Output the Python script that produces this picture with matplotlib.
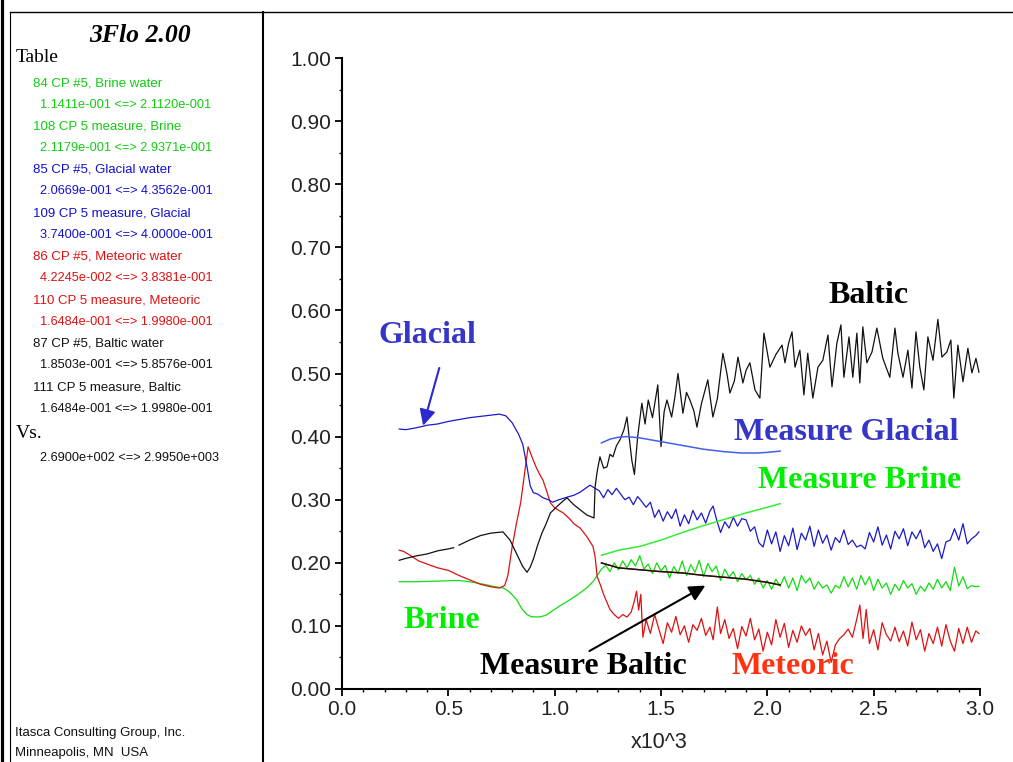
import numpy as np
import matplotlib
matplotlib.use("Agg")
import matplotlib.pyplot as plt
from matplotlib.lines import Line2D
from matplotlib.ticker import MultipleLocator, FormatStrFormatter

# ---------------------------------------------------------------- data
# time axis is in units of 10^3

glacial_t = [0.269, 0.30, 0.35, 0.40, 0.45, 0.50, 0.55, 0.60, 0.65, 0.70, 0.74, 0.77,
             0.80, 0.83, 0.85, 0.87, 0.885, 0.90, 0.92, 0.945, 0.97, 0.99, 1.02, 1.058,
             1.09, 1.12, 1.166, 1.19,
             1.21, 1.23, 1.25, 1.27, 1.29, 1.31, 1.33, 1.35, 1.37, 1.39, 1.41, 1.43, 1.45,
             1.47, 1.49, 1.51, 1.53, 1.55, 1.57, 1.59, 1.61, 1.63, 1.65, 1.67, 1.69, 1.71,
             1.73, 1.745, 1.76, 1.78, 1.80, 1.82, 1.84, 1.86, 1.88, 1.90, 1.92, 1.94, 1.96,
             1.98, 2.00, 2.02, 2.04, 2.06, 2.08, 2.10, 2.12, 2.14, 2.16, 2.18, 2.20, 2.22,
             2.24, 2.26, 2.28, 2.30, 2.32, 2.34, 2.36, 2.38, 2.40, 2.42, 2.44, 2.46, 2.48,
             2.50, 2.52, 2.54, 2.56, 2.58, 2.60, 2.62, 2.64, 2.66, 2.68, 2.70, 2.72, 2.74,
             2.76, 2.78, 2.80, 2.82, 2.84, 2.86, 2.88, 2.90, 2.92, 2.94, 2.96, 2.98, 2.995]
glacial_v = [0.412, 0.411, 0.414, 0.418, 0.420, 0.424, 0.427, 0.430, 0.432, 0.434, 0.4356, 0.433,
             0.422, 0.404, 0.388, 0.352, 0.322, 0.311, 0.309, 0.303, 0.300, 0.296, 0.300, 0.304,
             0.307, 0.312, 0.323, 0.318,
             0.314, 0.303, 0.316, 0.308, 0.318, 0.309, 0.300, 0.304, 0.292, 0.305, 0.297, 0.288, 0.296,
             0.272, 0.284, 0.266, 0.281, 0.270, 0.285, 0.258, 0.276, 0.262, 0.283, 0.268, 0.279, 0.263,
             0.282, 0.290, 0.270, 0.248, 0.265, 0.255, 0.272, 0.258, 0.270, 0.268, 0.250, 0.257, 0.232,
             0.225, 0.252, 0.230, 0.249, 0.218, 0.243, 0.227, 0.255, 0.221, 0.247, 0.236, 0.258, 0.226,
             0.252, 0.231, 0.244, 0.220, 0.240, 0.232, 0.252, 0.229, 0.236, 0.225, 0.228, 0.222, 0.248,
             0.233, 0.257, 0.228, 0.244, 0.222, 0.250, 0.238, 0.254, 0.227, 0.249, 0.238, 0.252, 0.224,
             0.236, 0.218, 0.230, 0.2067, 0.233, 0.236, 0.254, 0.236, 0.262, 0.230, 0.238, 0.243, 0.249]

brine_t = [0.269, 0.35, 0.45, 0.55, 0.62, 0.68, 0.72, 0.76, 0.79, 0.82, 0.846, 0.87, 0.89,
           0.93, 0.96, 0.99, 1.03, 1.07, 1.11, 1.15, 1.18, 1.20, 1.22,
           1.24, 1.26, 1.28, 1.30, 1.32, 1.34, 1.36, 1.38, 1.40, 1.42, 1.44, 1.46, 1.48,
           1.50, 1.52, 1.54, 1.56, 1.58, 1.60, 1.62, 1.64, 1.66, 1.68, 1.70, 1.72, 1.74,
           1.76, 1.78, 1.80, 1.82, 1.84, 1.86, 1.88, 1.90, 1.92, 1.94, 1.96, 1.98, 2.00,
           2.02, 2.04, 2.06, 2.08, 2.10, 2.12, 2.14, 2.16, 2.18, 2.20, 2.22, 2.24, 2.26,
           2.28, 2.30, 2.32, 2.34, 2.36, 2.38, 2.40, 2.42, 2.44, 2.46, 2.48, 2.50, 2.52,
           2.54, 2.56, 2.58, 2.60, 2.62, 2.64, 2.66, 2.68, 2.70, 2.72, 2.74, 2.76, 2.78,
           2.80, 2.82, 2.84, 2.86, 2.88, 2.90, 2.92, 2.94, 2.96, 2.98, 2.995]
brine_v = [0.170, 0.170, 0.171, 0.172, 0.169, 0.165, 0.162, 0.160, 0.153, 0.142, 0.127, 0.118, 0.1145,
           0.1141, 0.117, 0.124, 0.133, 0.141, 0.150, 0.160, 0.170, 0.180, 0.190,
           0.196, 0.186, 0.200, 0.189, 0.203, 0.192, 0.205, 0.195, 0.2112, 0.190, 0.198, 0.183, 0.200,
           0.187, 0.196, 0.176, 0.194, 0.183, 0.203, 0.180, 0.197, 0.185, 0.204, 0.178, 0.199, 0.186,
           0.195, 0.172, 0.190, 0.177, 0.186, 0.170, 0.183, 0.173, 0.180, 0.166, 0.176, 0.160, 0.172,
           0.158, 0.174, 0.163, 0.178, 0.160, 0.176, 0.156, 0.180, 0.168, 0.176, 0.158, 0.170, 0.160,
           0.165, 0.152, 0.164, 0.160, 0.178, 0.162, 0.176, 0.158, 0.180, 0.165, 0.178, 0.156, 0.174,
           0.160, 0.168, 0.150, 0.166, 0.156, 0.172, 0.160, 0.167, 0.150, 0.163, 0.155, 0.168, 0.158,
           0.174, 0.160, 0.170, 0.156, 0.193, 0.163, 0.178, 0.159, 0.164, 0.162, 0.163]

meteoric_t = [0.269, 0.29, 0.32, 0.36, 0.40, 0.45, 0.50, 0.55, 0.60, 0.65, 0.70, 0.74, 0.765,
              0.78, 0.80, 0.82, 0.84, 0.86, 0.875, 0.885, 0.90, 0.915, 0.93, 0.945, 0.96, 0.98,
              1.00, 1.04, 1.07, 1.09, 1.12, 1.15, 1.18, 1.19, 1.20, 1.215, 1.23, 1.245, 1.26,
              1.28, 1.30, 1.32, 1.34, 1.36, 1.375, 1.385, 1.395, 1.405, 1.415, 1.43, 1.45, 1.47,
              1.49, 1.51, 1.53, 1.55, 1.57, 1.59, 1.61, 1.63, 1.65, 1.67, 1.69, 1.71, 1.73,
              1.745, 1.765, 1.78, 1.80, 1.82, 1.84, 1.86, 1.88, 1.90, 1.92, 1.94, 1.96, 1.98,
              2.00, 2.02, 2.04, 2.06, 2.08, 2.10, 2.12, 2.14, 2.16, 2.18, 2.20, 2.22, 2.24,
              2.26, 2.28, 2.30, 2.32, 2.34, 2.36, 2.38, 2.40, 2.42, 2.435, 2.45, 2.465, 2.48,
              2.50, 2.52, 2.54, 2.56, 2.58, 2.60, 2.62, 2.64, 2.66, 2.68, 2.70, 2.72, 2.74,
              2.76, 2.78, 2.80, 2.82, 2.84, 2.86, 2.88, 2.90, 2.92, 2.94, 2.96, 2.98, 2.995]
meteoric_v = [0.220, 0.218, 0.212, 0.203, 0.198, 0.192, 0.188, 0.180, 0.173, 0.166, 0.162, 0.160, 0.164,
              0.180, 0.225, 0.262, 0.295, 0.345, 0.3838, 0.375, 0.362, 0.350, 0.340, 0.331, 0.316, 0.295,
              0.287, 0.279, 0.270, 0.262, 0.255, 0.242, 0.226, 0.210, 0.178, 0.165, 0.150, 0.138, 0.126,
              0.118, 0.112, 0.118, 0.114, 0.122, 0.140, 0.155, 0.125, 0.150, 0.082, 0.110, 0.088, 0.118,
              0.095, 0.072, 0.105, 0.090, 0.115, 0.086, 0.100, 0.074, 0.102, 0.093, 0.112, 0.085, 0.098,
              0.078, 0.130, 0.088, 0.110, 0.080, 0.096, 0.064, 0.099, 0.084, 0.112, 0.078, 0.095, 0.060,
              0.090, 0.070, 0.110, 0.082, 0.104, 0.066, 0.093, 0.074, 0.100, 0.085, 0.096, 0.062, 0.088,
              0.054, 0.076, 0.0422, 0.070, 0.080, 0.086, 0.095, 0.082, 0.110, 0.133, 0.080, 0.126, 0.072,
              0.094, 0.062, 0.105, 0.086, 0.076, 0.098, 0.075, 0.092, 0.068, 0.106, 0.078, 0.094, 0.060,
              0.088, 0.072, 0.098, 0.068, 0.102, 0.076, 0.060, 0.096, 0.072, 0.098, 0.074, 0.092, 0.088]

# the Baltic record has a short gap near t = 0.53
baltic_t = [0.269, 0.30, 0.35, 0.40, 0.45, 0.50, 0.525, 0.535, 0.55, 0.60, 0.65, 0.70, 0.757,
            0.79, 0.81, 0.83, 0.85, 0.87, 0.885, 0.90, 0.92, 0.94, 0.96, 0.98, 1.01, 1.04,
            1.058, 1.075, 1.09, 1.12, 1.15, 1.185, 1.19, 1.20, 1.213, 1.23, 1.246, 1.26, 1.274,
            1.29, 1.307, 1.325, 1.34, 1.35, 1.363, 1.375, 1.39, 1.41, 1.425, 1.44, 1.46, 1.485,
            1.50, 1.515, 1.528, 1.55, 1.565, 1.58, 1.603, 1.62, 1.636, 1.655, 1.669, 1.69, 1.72,
            1.744, 1.765, 1.791, 1.81, 1.824, 1.845, 1.862, 1.885, 1.90, 1.918, 1.942, 1.965,
            1.984, 2.012, 2.04, 2.069, 2.083, 2.10, 2.116, 2.13, 2.153, 2.172, 2.19, 2.214,
            2.238, 2.261, 2.285, 2.304, 2.327, 2.346, 2.36, 2.384, 2.402, 2.421, 2.435, 2.449,
            2.468, 2.492, 2.515, 2.543, 2.576, 2.60, 2.614, 2.638, 2.661, 2.68, 2.699, 2.717,
            2.736, 2.755, 2.779, 2.802, 2.821, 2.844, 2.863, 2.877, 2.896, 2.92, 2.943, 2.962,
            2.981, 2.995]
baltic_v = [0.204, 0.207, 0.211, 0.214, 0.219, 0.222, 0.224, np.nan, 0.228, 0.236, 0.243, 0.247, 0.249,
            0.236, 0.222, 0.208, 0.194, 0.1850, 0.193, 0.206, 0.228, 0.247, 0.262, 0.279, 0.289, 0.298,
            0.303, 0.297, 0.292, 0.284, 0.276, 0.271, 0.320, 0.345, 0.368, 0.350, 0.352, 0.372, 0.368,
            0.385, 0.395, 0.410, 0.431, 0.400, 0.362, 0.340, 0.399, 0.453, 0.420, 0.458, 0.430, 0.482,
            0.384, 0.440, 0.458, 0.431, 0.462, 0.500, 0.437, 0.470, 0.458, 0.440, 0.415, 0.452, 0.490,
            0.431, 0.460, 0.532, 0.500, 0.469, 0.488, 0.526, 0.485, 0.505, 0.517, 0.474, 0.461,
            0.564, 0.510, 0.530, 0.545, 0.517, 0.548, 0.566, 0.510, 0.537, 0.466, 0.532, 0.461,
            0.510, 0.521, 0.561, 0.479, 0.548, 0.577, 0.494, 0.558, 0.494, 0.564, 0.485, 0.574,
            0.517, 0.534, 0.572, 0.524, 0.494, 0.572, 0.532, 0.494, 0.537, 0.477, 0.566, 0.510,
            0.474, 0.558, 0.521, 0.5858, 0.526, 0.534, 0.553, 0.461, 0.545, 0.487, 0.540, 0.501,
            0.524, 0.502]

# measured concentrations
meas_glacial_t = [1.22, 1.26, 1.30, 1.34, 1.40, 1.50, 1.60, 1.70, 1.80, 1.88, 1.95, 2.00, 2.06]
meas_glacial_v = [0.390, 0.396, 0.399, 0.400, 0.398, 0.392, 0.386, 0.380, 0.376, 0.374, 0.374, 0.375, 0.377]
meas_brine_t = [1.22, 1.30, 1.40, 1.50, 1.60, 1.70, 1.80, 1.90, 2.00, 2.06]
meas_brine_v = [0.2118, 0.220, 0.226, 0.236, 0.248, 0.259, 0.269, 0.279, 0.288, 0.2937]
meas_baltic_t = [1.22, 1.26, 1.30, 1.40, 1.50, 1.60, 1.70, 1.80, 1.90, 2.00, 2.06]
meas_baltic_v = [0.1998, 0.196, 0.192, 0.189, 0.186, 0.184, 0.180, 0.177, 0.174, 0.169, 0.1648]
meas_meteoric_t = meas_baltic_t
meas_meteoric_v = meas_baltic_v

# side table
table_titles = ["84 CP #5, Brine water", "108 CP 5 measure, Brine",
                "85 CP #5, Glacial water", "109 CP 5 measure, Glacial",
                "86 CP #5, Meteoric water", "110 CP 5 measure, Meteoric",
                "87 CP #5, Baltic water", "111 CP 5 measure, Baltic"]
table_ranges = ["1.1411e-001 <=> 2.1120e-001", "2.1179e-001 <=> 2.9371e-001",
                "2.0669e-001 <=> 4.3562e-001", "3.7400e-001 <=> 4.0000e-001",
                "4.2245e-002 <=> 3.8381e-001", "1.6484e-001 <=> 1.9980e-001",
                "1.8503e-001 <=> 5.8576e-001", "1.6484e-001 <=> 1.9980e-001"]
table_colors = ["#11cc11", "#11cc11", "#1111cc", "#1111cc",
                "#e01010", "#e01010", "#111111", "#111111"]
vs_range = "2.6900e+002 <=> 2.9950e+003"

y_ticks = [0.0, 0.1, 0.2, 0.3, 0.4, 0.5, 0.6, 0.7, 0.8, 0.9, 1.0]
x_ticks = [0.0, 0.5, 1.0, 1.5, 2.0, 2.5, 3.0]

# ---------------------------------------------------------------- figure
W, H = 1013, 762
fig = plt.figure(figsize=(W / 100, H / 100), dpi=100)
fig.patch.set_facecolor("white")


def fx(px):
    return px / W


def fy(py):
    return 1 - py / H


SANS = "Liberation Sans"
SERIF = "Liberation Serif"

ax = fig.add_axes([fx(342), fy(689), (980 - 342) / W, (689 - 58) / H])
ax.set_xlim(0, 3.0)
ax.set_ylim(0, 1.0)

C_GREEN = "#11dd11"
C_BLUE = "#1a1acc"
C_RED = "#dd1111"
C_BLACK = "#111111"

lw = 0.9
ax.plot(brine_t, brine_v, color=C_GREEN, lw=lw)
ax.plot(meteoric_t, meteoric_v, color=C_RED, lw=lw)
ax.plot(glacial_t, glacial_v, color=C_BLUE, lw=lw)
ax.plot(baltic_t, baltic_v, color=C_BLACK, lw=lw)
ax.plot(meas_brine_t, meas_brine_v, color="#33ee33", lw=1.1)
ax.plot(meas_glacial_t, meas_glacial_v, color="#4060ee", lw=1.1)
ax.plot(meas_meteoric_t, meas_meteoric_v, color=C_RED, lw=1.0)
ax.plot(meas_baltic_t, meas_baltic_v, color=C_BLACK, lw=1.0)

# axes styling
for side in ("top", "right"):
    ax.spines[side].set_visible(False)
for side in ("left", "bottom"):
    ax.spines[side].set_linewidth(1.5)
ax.set_yticks(y_ticks)
ax.set_xticks(x_ticks)
ax.yaxis.set_minor_locator(MultipleLocator(0.05))
ax.xaxis.set_minor_locator(MultipleLocator(0.1))
ax.yaxis.set_major_formatter(FormatStrFormatter("%.2f"))
ax.xaxis.set_major_formatter(FormatStrFormatter("%.1f"))
ax.tick_params(which="major", direction="out", length=5, width=1.3, labelsize=15, pad=3)
ax.tick_params(which="minor", direction="out", length=2.5, width=1.0)
for lab in ax.get_xticklabels() + ax.get_yticklabels():
    lab.set_fontfamily(SANS)
ax.tick_params(axis="y", labelcolor="#222222")
ax.tick_params(axis="x", labelcolor="#222222")
fig.text(fx(659), fy(743), "x10^3", fontsize=15.5, family=SANS, color="#222222",
         ha="center", va="center")

# curve labels
lab_kw = dict(family=SERIF, fontweight="bold", fontsize=23, ha="center", va="center",
              clip_on=False)
ax.text(0.404, 0.561, "Glacial", color="#3535c8", **lab_kw)
ax.text(2.478, 0.623, "Baltic", color="black", **lab_kw)
ax.text(2.37, 0.406, "Measure Glacial", color="#3535c8", **lab_kw)
ax.text(2.435, 0.331, "Measure Brine", color="#00ee00", **lab_kw)
ax.text(0.470, 0.108, "Brine", color="#00ee00", **lab_kw)
ax.text(1.133, 0.035, "Measure Baltic", color="black", **lab_kw)
ax.text(2.12, 0.035, "Meteoric", color="#ff3311", **lab_kw)

ax.annotate("", xy=(0.378, 0.413), xytext=(0.461, 0.513),
            arrowprops=dict(arrowstyle="-|>", color="#2a2ad0", lw=1.5, mutation_scale=24))
ax.annotate("", xy=(1.72, 0.166), xytext=(1.152, 0.058),
            arrowprops=dict(arrowstyle="-|>", color="black", lw=1.5, mutation_scale=24))

# side panel
fig.text(fx(140), fy(35), "3Flo 2.00", family=SERIF, fontweight="bold", fontstyle="italic",
         fontsize=18.5, ha="center", va="center")
fig.text(fx(16), fy(58), "Table", family=SERIF, fontsize=14, ha="left", va="center")
row_y = 83
for title, rng, col in zip(table_titles, table_ranges, table_colors):
    fig.text(fx(33), fy(row_y), title, family=SANS, fontsize=9.5, color=col,
             ha="left", va="center")
    fig.text(fx(40), fy(row_y + 21.5), rng, family=SANS, fontsize=9.2, color=col,
             ha="left", va="center")
    row_y += 43.5
fig.text(fx(16), fy(434), "Vs.", family=SERIF, fontsize=14, ha="left", va="center")
fig.text(fx(40), fy(458), vs_range, family=SANS, fontsize=9.2, color="#111111",
         ha="left", va="center")
fig.text(fx(15), fy(733), "Itasca Consulting Group, Inc.", family=SANS, fontsize=9.5,
         color="#111111", ha="left", va="center")
fig.text(fx(15), fy(753), "Minneapolis, MN  USA", family=SANS, fontsize=9.5,
         color="#111111", ha="left", va="center")

# frame lines
frame = [((1.5, 1.5), (0, H), 2.3),
         ((9.5, 9.5), (12, H), 0.8),
         ((9.5, W), (12, 12), 1.0),
         ((263, 263), (12, H), 1.5)]
for xs, ys, w in frame:
    fig.add_artist(Line2D([fx(xs[0]), fx(xs[1])], [fy(ys[0]), fy(ys[1])],
                          transform=fig.transFigure, color="black", lw=w))

fig.savefig("out.png", dpi=100, facecolor="white")
